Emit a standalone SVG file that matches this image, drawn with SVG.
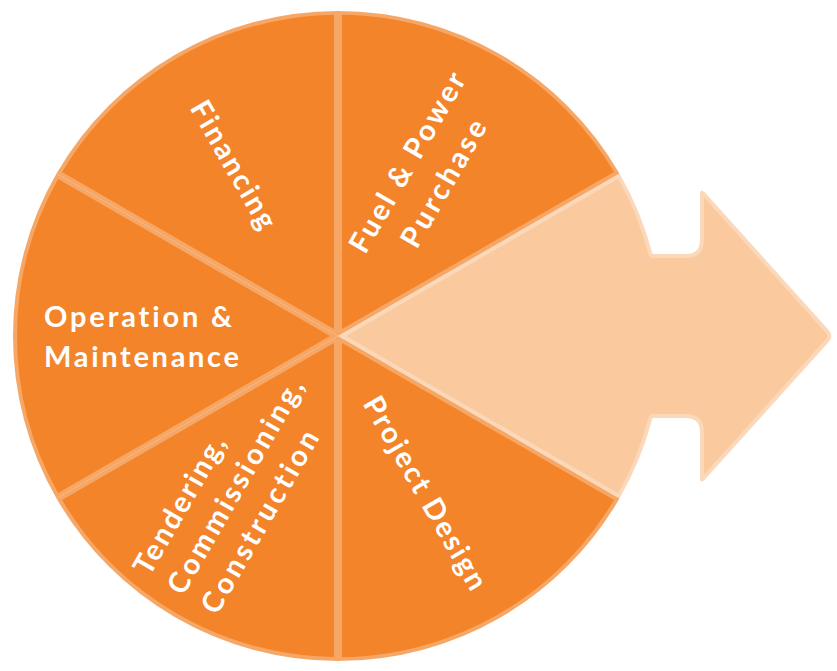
<svg xmlns="http://www.w3.org/2000/svg" width="837" height="671" viewBox="0 0 837 671">
<style>
.w{fill:#f3842a}
.lt{fill:#fac99e}
.t{font-family:Lato,"Liberation Sans",sans-serif;font-weight:700;font-size:29px;fill:#fff;font-variant-ligatures:none}
</style>
<rect width="837" height="671" fill="#fff"/>
<g id="arrow">
<path class="lt" d="M 338 336 L 619.46 173.5 A 325 325 0 0 1 652.5 254 L 686 254 Q 700 254 700 240 L 700 195 Q 700 187 705.35 192.95 L 828.65 330.05 Q 834 336 828.65 341.95 L 705.35 479.05 Q 700 485 700 477 L 700 432 Q 700 418 686 418 L 652.5 418 A 325 325 0 0 1 619.46 498.5 Z"/>
</g>
<g id="fuel">
<path class="w" d="M 338 336 L 338 11 A 325 325 0 0 1 619.46 173.5 Z"/>
</g>
<g id="project">
<path class="w" d="M 338 336 L 619.46 498.5 A 325 325 0 0 1 338 661 Z"/>
</g>
<g id="tendering">
<path class="w" d="M 338 336 L 338 661 A 325 325 0 0 1 56.54 498.5 Z"/>
</g>
<g id="operation">
<path class="w" d="M 338 336 L 56.54 498.5 A 325 325 0 0 1 56.54 173.5 Z"/>
</g>
<g id="financing">
<path class="w" d="M 338 336 L 56.54 173.5 A 325 325 0 0 1 338 11 Z"/>
</g>
<g id="connectors" opacity="0.28" fill="none" stroke="#fff" stroke-width="8" stroke-linejoin="round">
<path d="M338 336 L338 11 M338 336 L619.46 173.5 M338 336 L619.46 498.5 M338 336 L338 661 M338 336 L56.54 498.5 M338 336 L56.54 173.5"/>
<path d="M 652.5 254 L 686 254 Q 700 254 700 240 L 700 195 Q 700 187 705.35 192.95 L 828.65 330.05 Q 834 336 828.65 341.95 L 705.35 479.05 Q 700 485 700 477 L 700 432 Q 700 418 686 418 L 652.5 418 A 325 325 0 1 1 652.5 254 Z"/>
</g>
<g id="labels">
<text class="t" transform="translate(225,169.7) rotate(60)" text-anchor="middle" textLength="143" lengthAdjust="spacing">Financing</text>
<g transform="translate(416,167.4) rotate(-60)">
<text class="t" x="0" y="0" text-anchor="middle" textLength="203" lengthAdjust="spacing">Fuel &amp; Power</text>
<text class="t" x="0" y="42" text-anchor="middle" textLength="142" lengthAdjust="spacing">Purchase</text>
</g>
<text class="t" x="44" y="327" textLength="188" lengthAdjust="spacing">Operation &amp;</text>
<text class="t" x="44" y="367" textLength="195" lengthAdjust="spacing">Maintenance</text>
<g transform="translate(149.5,577) rotate(-60)">
<text class="t" x="0" y="0" textLength="155" lengthAdjust="spacing">Tendering,</text>
<text class="t" x="0" y="39" textLength="243" lengthAdjust="spacing">Commissioning,</text>
<text class="t" x="0" y="78" textLength="206" lengthAdjust="spacing">Construction</text>
</g>
<text class="t" transform="translate(416.8,497.9) rotate(60)" text-anchor="middle" textLength="218" lengthAdjust="spacing">Project Design</text>
</g>
</svg>
